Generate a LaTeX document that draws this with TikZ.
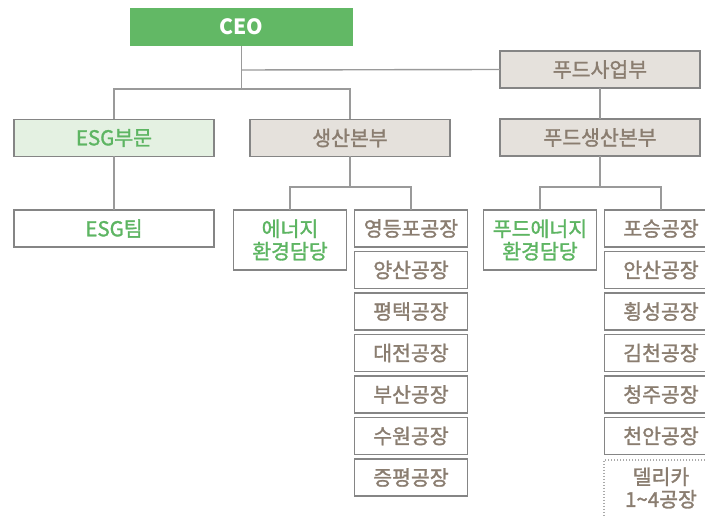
\documentclass[tikz,border=0pt]{standalone}
\usepackage{fontspec}
\setmainfont{Noto Sans CJK KR}
\newfontfamily\krfont[FakeBold=1.4]{Noto Sans CJK KR}
\newfontfamily\krbold{Noto Sans CJK KR}
\definecolor{ceogreen}{HTML}{62B865}
\definecolor{lgreen}{HTML}{E4F1E2}
\definecolor{txtgreen}{HTML}{5DB562}
\definecolor{beige}{HTML}{E5E1DC}
\definecolor{txtbrown}{HTML}{8A7D70}
\definecolor{bordergray}{HTML}{858585}
\definecolor{linegray}{HTML}{9A9A9A}
\definecolor{dotgray}{HTML}{AAAAAA}
\tikzset{
  box/.style={draw=bordergray, line width=1.4pt, rectangle, inner sep=0pt, outer sep=0pt,
    font=\krfont\fontsize{20.5}{22.5}\selectfont, align=center},
  bigbox/.style={box, minimum width=200pt, minimum height=37pt},
  smallbox/.style={box, fill=white, minimum width=113pt, minimum height=37pt, text=txtbrown},
  graybox/.style={bigbox, fill=beige, text=txtbrown},
  conn/.style={draw=linegray, line width=1.4pt},
}
\begin{document}
\begin{tikzpicture}[x=1pt,y=-1pt]
\clip (0,0) rectangle (705,518);
\fill[white] (0,0) rectangle (705,518);
% top
\node[box, draw=none, fill=ceogreen, minimum width=223pt, minimum height=38pt, text=white, font=\krbold\bfseries\fontsize{21}{23}\selectfont] (ceo) at (241.5,27) {CEO};
\node[graybox] (food) at (600,69.5) {푸드사업부};
\node[bigbox, fill=lgreen, text=txtgreen] (esgdiv) at (114,138) {ESG부문};
\node[graybox] (prod) at (350,138) {생산본부};
\node[graybox] (foodprod) at (600,137.5) {푸드생산본부};
\node[bigbox, fill=white, text=txtgreen] (esgteam) at (114,228.5) {ESG팀};
% production
\node[smallbox, text=txtgreen, minimum height=60pt] (energy) at (290,240) {에너지\\환경담당};
\foreach \n/\t [count=\i from 0] in {p1/영등포공장,p2/양산공장,p3/평택공장,p4/대전공장,p5/부산공장,p6/수원공장,p7/증평공장}{
  \node[smallbox] (\n) at (411,228.5+41.5*\i) {\t};
}
% food production
\node[smallbox, text=txtgreen, minimum height=60pt] (fenergy) at (540,240) {푸드에너지\\환경담당};
\foreach \n/\t [count=\i from 0] in {f1/포승공장,f2/안산공장,f3/횡성공장,f4/김천공장,f5/청주공장,f6/천안공장}{
  \node[smallbox] (\n) at (661,228.5+41.5*\i) {\t};
}
\node[box, draw=dotgray, dash pattern=on 1.5pt off 1.5pt, line width=1.4pt, minimum width=113pt, minimum height=70pt, text=txtbrown, anchor=north west] (deli) at (604,460) {};
\node[font=\krfont\fontsize{20.5}{22.5}\selectfont, text=txtbrown, align=center, inner sep=0pt] (delitxt) at (661,488) {델리카\\1\textasciitilde4공장};
% connectors
\coordinate (j1) at (241.5,89);
\coordinate (j2) at (241.5,70);
\draw[conn] (ceo.south) -- (j1);
\draw[conn] (j2) -- (food.west);
\draw[conn] (esgdiv.north) -- (esgdiv.north |- j1) -- (prod.north |- j1) -- (prod.north);
\draw[conn] (food.south) -- (foodprod.north);
\draw[conn] (esgdiv.south) -- (esgteam.north);
\coordinate (j3) at (350,187);
\draw[conn] (prod.south) -- (j3);
\draw[conn] (energy.north) -- (energy.north |- j3) -- (p1.north |- j3) -- (p1.north);
\coordinate (j4) at (600,187);
\draw[conn] (foodprod.south) -- (j4);
\draw[conn] (fenergy.north) -- (fenergy.north |- j4) -- (f1.north |- j4) -- (f1.north);
\end{tikzpicture}
\end{document}
